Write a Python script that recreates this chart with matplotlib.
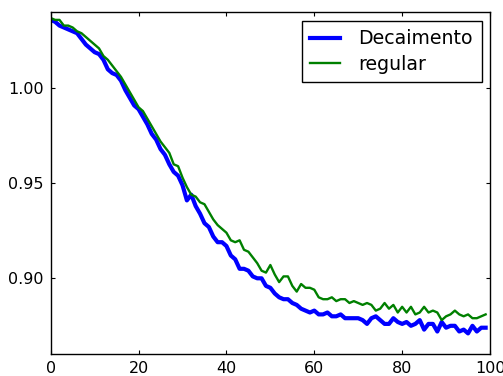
import matplotlib
matplotlib.use("Agg")
import matplotlib.pyplot as plt
import numpy as np

x = list(range(100))

decaimento = [
    1.036, 1.035, 1.033, 1.032, 1.031, 1.030, 1.029, 1.026, 1.023, 1.021,
    1.019, 1.018, 1.015, 1.010, 1.008, 1.007, 1.004, 0.999, 0.995, 0.991,
    0.989, 0.985, 0.981, 0.976, 0.973, 0.968, 0.965, 0.960, 0.956, 0.954,
    0.949, 0.941, 0.944, 0.938, 0.934, 0.929, 0.927, 0.922, 0.919, 0.919,
    0.917, 0.912, 0.910, 0.905, 0.905, 0.904, 0.901, 0.900, 0.900, 0.896,
    0.895, 0.892, 0.890, 0.889, 0.889, 0.887, 0.886, 0.884, 0.883, 0.882,
    0.883, 0.881, 0.881, 0.882, 0.880, 0.880, 0.881, 0.879, 0.879, 0.879,
    0.879, 0.878, 0.876, 0.879, 0.880, 0.878, 0.876, 0.876, 0.879, 0.877,
    0.876, 0.877, 0.875, 0.876, 0.878, 0.873, 0.876, 0.876, 0.872, 0.877,
    0.874, 0.875, 0.875, 0.872, 0.873, 0.871, 0.875, 0.872, 0.874, 0.874,
]

regular = [
    1.037, 1.036, 1.036, 1.033, 1.033, 1.032, 1.030, 1.029, 1.027, 1.025,
    1.023, 1.021, 1.017, 1.015, 1.012, 1.009, 1.006, 1.002, 0.998, 0.994,
    0.990, 0.988, 0.984, 0.980, 0.976, 0.972, 0.969, 0.966, 0.960, 0.959,
    0.953, 0.948, 0.944, 0.943, 0.940, 0.939, 0.935, 0.931, 0.928, 0.926,
    0.924, 0.920, 0.919, 0.920, 0.915, 0.914, 0.911, 0.908, 0.904, 0.903,
    0.907, 0.902, 0.898, 0.901, 0.901, 0.896, 0.893, 0.897, 0.895, 0.895,
    0.894, 0.890, 0.889, 0.889, 0.890, 0.888, 0.889, 0.889, 0.887, 0.888,
    0.887, 0.886, 0.887, 0.886, 0.883, 0.884, 0.887, 0.884, 0.886, 0.882,
    0.885, 0.882, 0.885, 0.881, 0.882, 0.885, 0.882, 0.883, 0.882, 0.878,
    0.880, 0.881, 0.883, 0.881, 0.880, 0.881, 0.879, 0.879, 0.880, 0.881,
]

xticks = [0, 20, 40, 60, 80, 100]
yticks = [0.90, 0.95, 1.00]
ytick_labels = ["0.90", "0.95", "1.00"]

fig = plt.figure(figsize=(5.03, 3.76), dpi=100)
fig.patch.set_facecolor("white")
ax = fig.add_axes([0.1008, 0.0577, 0.8734, 0.9096])

ax.plot(x, decaimento, color=(0, 0, 1), lw=3, label="Decaimento")
ax.plot(x, regular, color=(0, 0.5, 0), lw=1.7, label="regular")

ax.set_xlim(0, 100)
ax.set_ylim(0.86, 1.04)
ax.set_xticks(xticks)
ax.set_yticks(yticks)
ax.set_yticklabels(ytick_labels)
ax.tick_params(direction="in", top=True, right=True, length=3.2, width=0.8,
               labelsize=11.5, pad=5)
for s in ax.spines.values():
    s.set_linewidth(1.0)

leg = ax.legend(loc="upper right", fontsize=13.6, fancybox=False,
                framealpha=1, edgecolor="black", handlelength=1.55,
                handletextpad=1.0, borderpad=0.45,
                borderaxespad=0.45, labelspacing=0.35)
leg.get_frame().set_linewidth(1.0)

fig.savefig("out.png", dpi=100, facecolor="white")
